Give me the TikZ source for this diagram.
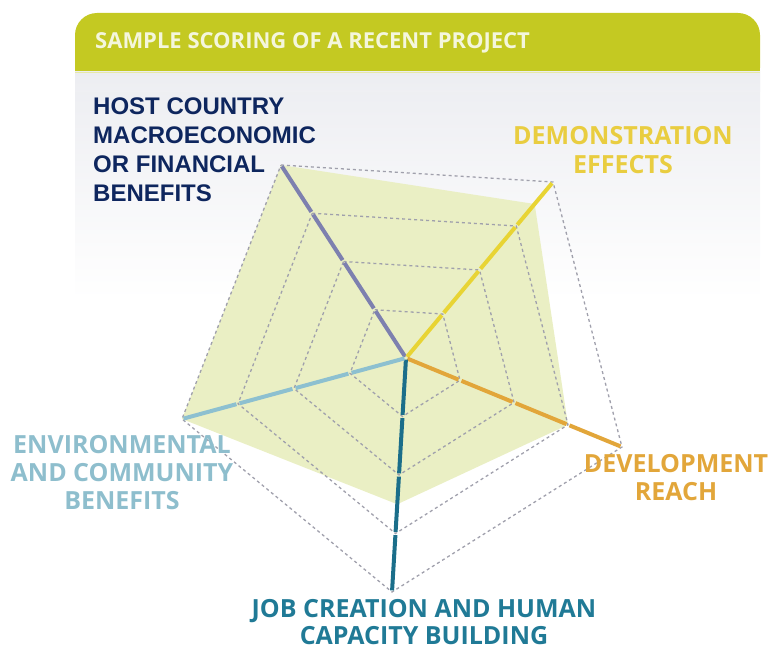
\documentclass[tikz,border=0pt]{standalone}
\usepackage{fontspec}
\setmainfont{Open Sans}
\newfontfamily\arialfont{Liberation Sans}
\usetikzlibrary{calc}
\definecolor{hdr}{RGB}{196,201,34}
\definecolor{hdrtext}{RGB}{244,246,220}
\definecolor{panel}{RGB}{236,237,241}
\definecolor{navy}{RGB}{14,38,94}
\definecolor{cP}{RGB}{125,128,175}
\definecolor{cY}{RGB}{232,212,52}
\definecolor{cYt}{RGB}{233,205,64}
\definecolor{cO}{RGB}{226,166,58}
\definecolor{cT}{RGB}{27,110,138}
\definecolor{cTt}{RGB}{32,122,150}
\definecolor{cL}{RGB}{141,192,208}
\definecolor{cLt}{RGB}{142,190,205}
\definecolor{scorefill}{RGB}{234,239,196}
\definecolor{gridc}{RGB}{160,160,172}
\tikzset{
  gridline/.style={draw=gridc, line width=1.3pt, dash pattern=on 3pt off 3pt},
  axisline/.style={line width=4pt, shorten <=1.6pt, shorten >=1.6pt},
  lbl/.style={inner sep=0pt, align=center, font=\bfseries\fontsize{25}{28}\selectfont},
}
\begin{document}
\begin{tikzpicture}[x=1pt,y=-1pt]
\useasboundingbox (0,0) rectangle (771,650);
% background panel
\shade[top color=panel, bottom color=white] (75,70) rectangle (760,300);
% header bar
\fill[hdr, rounded corners=22pt] (75,13) rectangle (760,90);
\fill[hdr] (75,50) rectangle (760,72);
\fill[white] (75,72) rectangle (760,92);
\shade[top color=panel, bottom color=panel!85!white] (75,72) rectangle (760,92);
\draw[hdr!40!white, line width=0.8pt] (75,72) -- (760,72);
\node[anchor=west, inner sep=0pt, text=hdrtext, font=\bfseries\fontsize{22}{26}\selectfont] (title) at (95,43) {SAMPLE SCORING OF A RECENT PROJECT};

% radar geometry
\coordinate (C) at (406,358);
\coordinate (P) at (281,165);
\coordinate (Y) at (553,182);
\coordinate (O) at (622,447);
\coordinate (T) at (392,592);
\coordinate (L) at (182,419);

% score polygon
\fill[scorefill] (P) -- ($(C)!0.875!(Y)$) -- ($(C)!0.75!(O)$) -- ($(C)!0.625!(T)$) -- (L) -- cycle;

% grid rings
\foreach \k in {0.25,0.5,0.75,1}{
  \draw[gridline] ($(C)!\k!(P)$) -- ($(C)!\k!(Y)$) -- ($(C)!\k!(O)$) -- ($(C)!\k!(T)$) -- ($(C)!\k!(L)$) -- cycle;
}

% axes
\foreach \a/\c in {P/cP, Y/cY, O/cO, T/cT, L/cL}{
  \foreach \s/\e in {0/0.25,0.25/0.5,0.5/0.75,0.75/1}{
    \draw[axisline, \c] ($(C)!\s!(\a)$) -- ($(C)!\e!(\a)$);
  }
}

% labels
\node[anchor=north west, inner sep=0pt, align=left, text=navy, font=\arialfont\bfseries\fontsize{24}{29}\selectfont] (hostlbl) at (93,98) {HOST COUNTRY\\MACROECONOMIC\\OR FINANCIAL\\BENEFITS};
\node[lbl, anchor=north, text=cYt, font=\bfseries\fontsize{25}{29}\selectfont] (demolbl) at (623,126) {DEMONSTRATION\\EFFECTS};
\node[lbl, anchor=north, text=cLt] (envlbl) at (122,435) {ENVIRONMENTAL\\AND COMMUNITY\\BENEFITS};
\node[lbl, anchor=north, text=cO] (devlbl) at (676,454) {DEVELOPMENT\\REACH};
\node[lbl, anchor=north, text=cTt, font=\bfseries\fontsize{25}{27}\selectfont] (joblbl) at (424,599) {JOB CREATION AND HUMAN\\CAPACITY BUILDING};
\end{tikzpicture}
\end{document}
